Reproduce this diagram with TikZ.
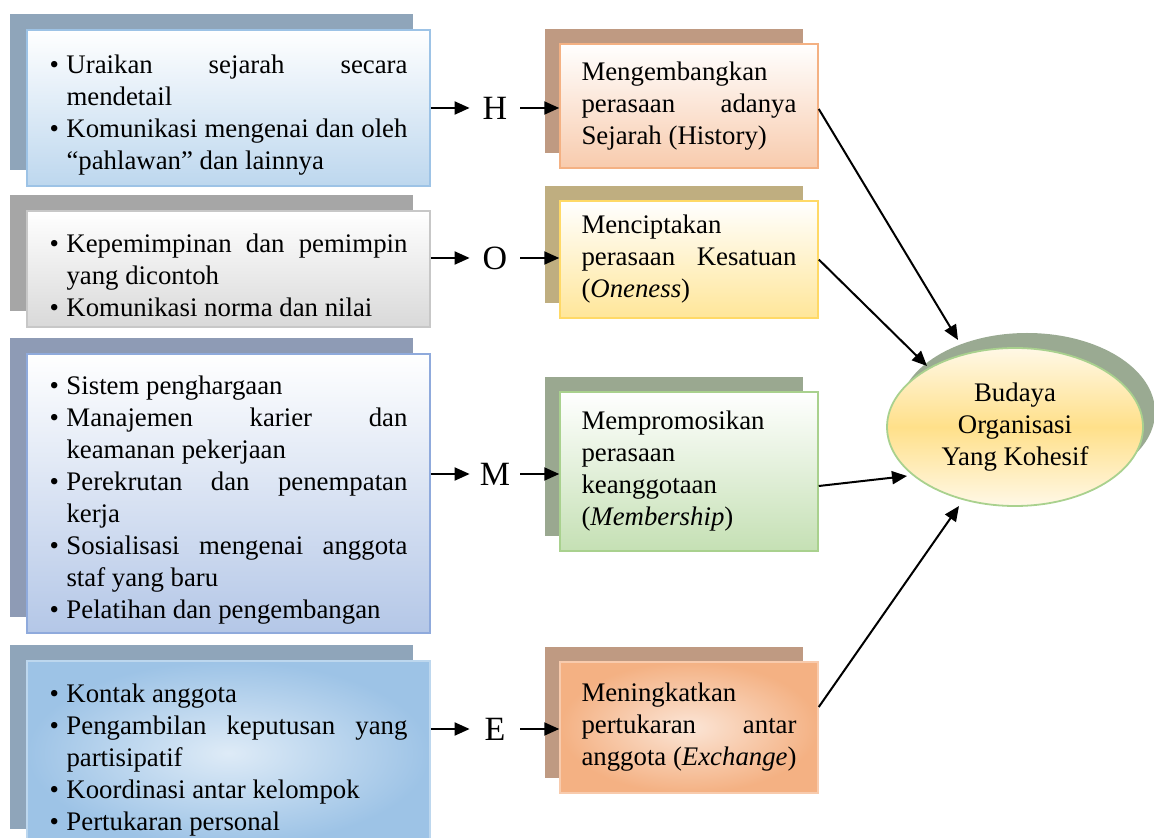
\documentclass[tikz,border=0pt]{standalone}
\usepackage{fontspec}
\setmainfont{Liberation Serif}
\usepackage{tikz}
\usetikzlibrary{arrows.meta,shapes.geometric,shadows,calc}

\begin{document}
\begin{tikzpicture}[x=0.5pt,y=-0.5pt,
  font=\fontsize{13.4}{16}\selectfont,
  kotak/.style={draw,line width=0.75pt,inner ysep=0pt,align=justify},
  kotak kiri/.style={kotak,minimum width=201.5pt,text width=179pt,inner xsep=11.25pt,
    general shadow={fill=#1,shadow xshift=-8.5pt,shadow yshift=8pt}},
  kotak tengah/.style={kotak,minimum width=129pt,text width=107.5pt,inner xsep=10.75pt,
    general shadow={fill=#1,shadow xshift=-7.5pt,shadow yshift=7.5pt}},
  huruf/.style={font=\fontsize{17}{20}\selectfont,minimum width=25pt,inner sep=0pt},
  panah/.style={line width=1pt,-{Triangle[length=7.5pt,width=6.5pt]}}]
  \def\itm{\par\noindent\hangindent=8.5pt\hangafter=1\makebox[8.5pt][l]{\textbullet}}
  \definecolor{sBiru}{HTML}{8FA5BA}
  \definecolor{sAbu}{HTML}{A6A6A6}
  \definecolor{sUngu}{HTML}{8E9BB5}
  \definecolor{sCoklat}{HTML}{BF9A82}
  \definecolor{sKhaki}{HTML}{BFAE80}
  \definecolor{sHijau}{HTML}{9AA890}
  \definecolor{sElips}{HTML}{9AAA92}
  \useasboundingbox (0,0) rectangle (1154,838);
  % kotak kiri
  \node[kotak kiri=sBiru,minimum height=78pt,draw={rgb,255:red,157;green,195;blue,230},
    top color=white,bottom color={rgb,255:red,189;green,215;blue,238}] (b1) at (228.5,108)
    {\itm Uraikan sejarah secara\linebreak mendetail
     \itm Komunikasi mengenai dan oleh\linebreak “pahlawan” dan lainnya\par};
  \node[kotak kiri=sAbu,minimum height=58pt,draw=black!22,
    top color=white,bottom color=black!15] (b2) at (228.5,269)
    {\itm Kepemimpinan dan pemimpin\linebreak yang dicontoh
     \itm Komunikasi norma dan nilai\par};
  \node[kotak kiri=sUngu,minimum height=139.5pt,draw={rgb,255:red,143;green,170;blue,220},
    top color=white,bottom color={rgb,255:red,180;green,199;blue,231}] (b3) at (228.5,493.5)
    {\itm Sistem penghargaan
     \itm Manajemen karier dan\linebreak keamanan pekerjaan
     \itm Perekrutan dan penempatan\linebreak kerja
     \itm Sosialisasi mengenai anggota\linebreak staf yang baru
     \itm Pelatihan dan pengembangan\par};
  \node[kotak kiri=sBiru,minimum height=92pt,draw={rgb,255:red,189;green,215;blue,238},
    inner color={rgb,255:red,222;green,235;blue,247},outer color={rgb,255:red,157;green,195;blue,230}] (b4) at (228.5,753)
    {\itm Kontak anggota
     \itm Pengambilan keputusan yang\linebreak partisipatif
     \itm Koordinasi antar kelompok
     \itm Pertukaran personal\par};
  % kotak tengah
  \node[kotak tengah=sCoklat,minimum height=62pt,draw={rgb,255:red,244;green,177;blue,131},
    top color=white,bottom color={rgb,255:red,248;green,203;blue,173}] (mH) at (689,106)
    {Mengembangkan\newline perasaan adanya\linebreak Sejarah (History)};
  \node[kotak tengah=sKhaki,minimum height=58.5pt,draw={rgb,255:red,255;green,217;blue,102},
    top color=white,bottom color={rgb,255:red,255;green,230;blue,153}] (mO) at (689,259.5)
    {Menciptakan\newline perasaan Kesatuan\linebreak (\textit{Oneness})};
  \node[kotak tengah=sHijau,minimum height=79.5pt,draw={rgb,255:red,169;green,209;blue,142},
    top color=white,bottom color={rgb,255:red,197;green,224;blue,180}] (mM) at (689,471.5)
    {Mempromosikan\newline perasaan\newline keanggotaan\newline (\textit{Membership})};
  \node[kotak tengah=sCoklat,minimum height=65.5pt,draw={rgb,255:red,248;green,203;blue,173},
    inner color={rgb,255:red,251;green,229;blue,214},outer color={rgb,255:red,244;green,177;blue,131}] (mE) at (689,727.5)
    {Meningkatkan\newline pertukaran antar\linebreak anggota (\textit{Exchange})};
  % huruf HOME
  \node[huruf] (lH) at (495,108) {H};
  \node[huruf] (lO) at (495,258) {O};
  \node[huruf] (lM) at (495,474) {M};
  \node[huruf] (lE) at (495,729) {E};
  % elips
  \node[ellipse,draw={rgb,255:red,169;green,209;blue,142},line width=0.9pt,
    minimum width=128pt,minimum height=79pt,inner sep=0pt,align=center,
    general shadow={fill=sElips,shadow xshift=6pt,shadow yshift=7.5pt},
    top color={rgb,255:red,255;green,248;blue,230},bottom color={rgb,255:red,255;green,248;blue,230},
    middle color={rgb,255:red,255;green,224;blue,138}] (ell) at (1015,427)
    {Budaya\\Organisasi\\Yang Kohesif};
  \coordinate (tH) at (958,340);
  \coordinate (tO) at (927,366);
  \coordinate (tM) at (907,476);
  \coordinate (tE) at (959,506);
  \foreach \b/\l/\m in {b1/lH/mH,b2/lO/mO,b3/lM/mM,b4/lE/mE}{
      \draw[panah] (\b.east |- \l) -- (\l);
      \draw[panah] (\l) -- (\m.west |- \l);
    }
  \draw[panah] ([yshift=-1.5pt]mH.east) -- (tH);
  \draw[panah] (mO.east) -- (tO);
  \draw[panah] ([yshift=-7.25pt]mM.east) -- (tM);
  \draw[panah] ([yshift=10.25pt]mE.east) -- (tE);
\end{tikzpicture}
\end{document}
